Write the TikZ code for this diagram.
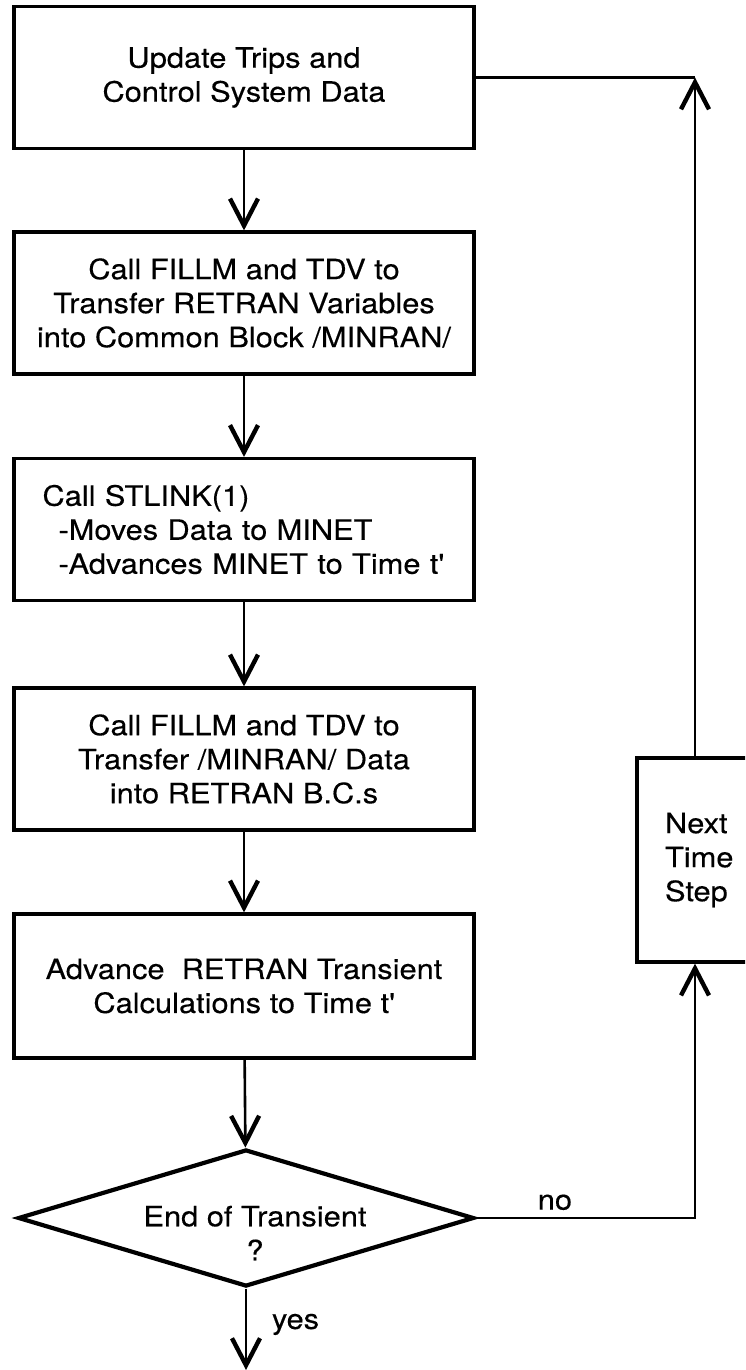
\documentclass[tikz,border=0pt]{standalone}
\usepackage{fontspec}
\setmainfont{TeX Gyre Heros}[FakeStretch=1.1, FakeBold=0.3]
\usetikzlibrary{arrows.meta,shapes.geometric}
\tikzset{
  >={Straight Barb[length=13.5pt,width=14pt,line width=2.2pt]},
  box/.style={draw, line width=1.6pt, minimum width=230pt, minimum height=71pt, inner sep=0pt, align=center},
  decision/.style={draw, diamond, line width=2.1pt, aspect=3.3, minimum width=228pt, minimum height=68.5pt, inner sep=0pt},
  flow/.style={line width=1.3pt}
}
\begin{document}
\begin{tikzpicture}[x=0.5pt, y=-0.5pt, font=\fontsize{14pt}{17pt}\selectfont]
        \clip (0,0) rectangle (745,1370);
        \node[box] (trips) at (244,77.5) {Update Trips and\\Control System Data};
        \node[box] (fillm) at (244,303) {Call FILLM and TDV to\\Transfer RETRAN Variables\\into Common Block /MINRAN/};
        \node[box, align=left, text width=201.5pt] (stlink) at (244,529.5) {Call STLINK(1)\\\hspace*{8pt}-Moves Data to MINET\\\hspace*{8pt}-Advances MINET to Time t\textquotesingle};
        \node[box] (fillmback) at (244,759) {Call FILLM and TDV to\\Transfer /MINRAN/ Data\\into RETRAN B.C.s};
        \node[box, minimum height=72pt] (advance) at (244,986) {Advance\ \ RETRAN Transient\\Calculations to Time t\textquotesingle};
        \node[decision, label={[align=center, xshift=4.5pt, yshift=-7.5pt]center:End of Transient\\?}] (endtr) at (246,1218) {};
        \node[draw, line width=1.6pt, minimum width=64pt, minimum height=102pt, inner sep=0pt, text width=36pt, align=left] (nextstep) at (701,860) {Next\\Time\\Step};
        \coordinate (loopx) at (695,0);
        \coordinate (exit) at (246,1370);
        \draw[->, flow] (trips) -- (fillm);
        \draw[->, flow] (fillm) -- (stlink);
        \draw[->, flow] (stlink) -- (fillmback);
        \draw[->, flow] (fillmback) -- (advance);
        \draw[->, flow] (advance) -- (endtr);
        \draw[->, flow] (endtr.south) -- node[right, pos=0.44, xshift=9pt] {yes} (exit);
        \draw[->, flow] (endtr.east) -- node[above, pos=0.36] {no} (endtr.east -| loopx) -- (nextstep.south -| loopx);
        \draw[->, flow] (nextstep.north -| loopx) -- (trips.east -| loopx);
        \draw[flow] (trips.east -| loopx) -- (trips.east);
    \end{tikzpicture}
\end{document}
